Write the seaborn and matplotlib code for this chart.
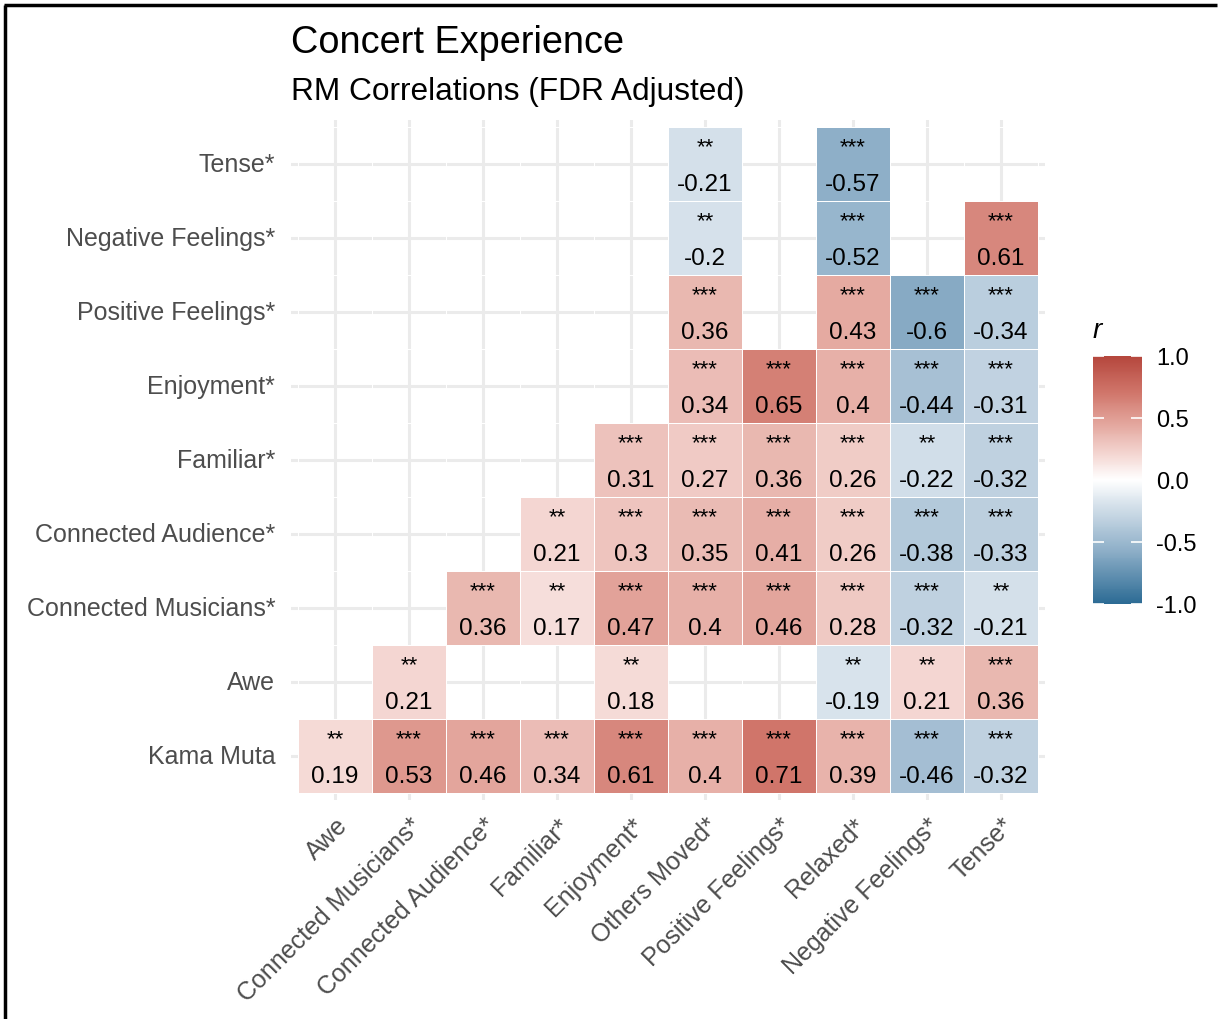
import numpy as np
import pandas as pd
import matplotlib
matplotlib.use("Agg")
import matplotlib.pyplot as plt
import seaborn as sns
from matplotlib.colors import LinearSegmentedColormap
from matplotlib.lines import Line2D

# Variables on each axis
col_vars = ["Awe", "Connected Musicians*", "Connected Audience*", "Familiar*",
            "Enjoyment*", "Others Moved*", "Positive Feelings*", "Relaxed*",
            "Negative Feelings*", "Tense*"]
row_vars = ["Tense*", "Negative Feelings*", "Positive Feelings*", "Enjoyment*",
            "Familiar*", "Connected Audience*", "Connected Musicians*", "Awe",
            "Kama Muta"]

N = np.nan
# Repeated-measures correlations (non-significant pairs left blank)
r_tense    = [N, N, N, N, N, -0.21, N, -0.57, N, N]
r_negative = [N, N, N, N, N, -0.2, N, -0.52, N, 0.61]
r_positive = [N, N, N, N, N, 0.36, N, 0.43, -0.6, -0.34]
r_enjoy    = [N, N, N, N, N, 0.34, 0.65, 0.4, -0.44, -0.31]
r_familiar = [N, N, N, N, 0.31, 0.27, 0.36, 0.26, -0.22, -0.32]
r_conn_aud = [N, N, N, 0.21, 0.3, 0.35, 0.41, 0.26, -0.38, -0.33]
r_conn_mus = [N, N, 0.36, 0.17, 0.47, 0.4, 0.46, 0.28, -0.32, -0.21]
r_awe      = [N, 0.21, N, N, 0.18, N, N, -0.19, 0.21, 0.36]
r_kama     = [0.19, 0.53, 0.46, 0.34, 0.61, 0.4, 0.71, 0.39, -0.46, -0.32]

# Significance stars (FDR adjusted)
s_tense    = ["", "", "", "", "", "**", "", "***", "", ""]
s_negative = ["", "", "", "", "", "**", "", "***", "", "***"]
s_positive = ["", "", "", "", "", "***", "", "***", "***", "***"]
s_enjoy    = ["", "", "", "", "", "***", "***", "***", "***", "***"]
s_familiar = ["", "", "", "", "***", "***", "***", "***", "**", "***"]
s_conn_aud = ["", "", "", "**", "***", "***", "***", "***", "***", "***"]
s_conn_mus = ["", "", "***", "**", "***", "***", "***", "***", "***", "**"]
s_awe      = ["", "**", "", "", "**", "", "", "**", "**", "***"]
s_kama     = ["**", "***", "***", "***", "***", "***", "***", "***", "***", "***"]

r_rows = [r_tense, r_negative, r_positive, r_enjoy, r_familiar,
          r_conn_aud, r_conn_mus, r_awe, r_kama]
s_rows = [s_tense, s_negative, s_positive, s_enjoy, s_familiar,
          s_conn_aud, s_conn_mus, s_awe, s_kama]

corr = pd.DataFrame(r_rows, index=row_vars, columns=col_vars)

plt.rcParams["font.family"] = ["Liberation Sans", "DejaVu Sans"]
plt.rcParams["axes.unicode_minus"] = False

# Diverging palette: blue - white - red
stops = [(-1.0, "#2C6B94"), (-0.57, "#8EAFC8"), (-0.21, "#D4E0EA"),
         (0.0, "#FFFFFF"), (0.19, "#F5DAD6"), (0.46, "#E3A59C"),
         (0.71, "#D0756A"), (1.0, "#B5473D")]
cmap = LinearSegmentedColormap.from_list(
    "rm_div", [((v + 1) / 2, c) for v, c in stops])

W, H = 1219, 1020
fig = plt.figure(figsize=(W / 100, H / 100), dpi=100)
ax = fig.add_axes([290.6 / W, 1 - 801.4 / H, 754.8 / W, 680.8 / H])
cax = fig.add_axes([1093 / W, 1 - 605 / H, 49 / W, 248 / H])

sns.heatmap(corr, cmap=cmap, vmin=-1, vmax=1, linewidths=0.5,
            linecolor="white", ax=ax, cbar_ax=cax)

nrow, ncol = corr.shape
ax.set_xlim(-0.1, ncol + 0.1)
ax.set_ylim(nrow + 0.1, -0.1)
ax.set_axisbelow(True)
ax.grid(True, color="#EBEBEB", linewidth=2.2)
for sp in ax.spines.values():
    sp.set_visible(False)
ax.tick_params(length=0)
ax.set_xlabel("")
ax.set_ylabel("")
ax.set_xticklabels(col_vars, rotation=45, ha="right", va="top",
                   rotation_mode="anchor", fontsize=18, color="#4D4D4D")
ax.set_yticklabels(row_vars, rotation=0, fontsize=18, color="#4D4D4D",
                   va="center")
ax.tick_params(axis="y", pad=11)
ax.tick_params(axis="x", pad=9)

# Cell annotations: stars above, rounded coefficient below
for i in range(nrow):
    for j in range(ncol):
        v = corr.iat[i, j]
        if np.isnan(v):
            continue
        ax.text(j + 0.5, i + 0.5 - 0.24, s_rows[i][j], ha="center",
                va="center", fontsize=16, color="black")
        ax.text(j + 0.5, i + 0.5 + 0.27, format(v, "g"), ha="center",
                va="center", fontsize=17.5, color="black")

# Colourbar styling
cbar = ax.collections[0].colorbar
cbar.outline.set_visible(False)
cbar.set_ticks([-1, -0.5, 0, 0.5, 1])
cbar.set_ticklabels(["-1.0", "-0.5", "0.0", "0.5", "1.0"])
cax.tick_params(direction="in", length=8, width=1.2, color="white",
                labelcolor="black", labelsize=17, left=True, right=True,
                pad=10)
cax.set_title("r", loc="left", fontstyle="italic", fontsize=20, pad=14)

# Titles
fig.text(291 / W, 1 - 53 / H, "Concert Experience", fontsize=27.3,
         va="baseline", ha="left", color="black")
fig.text(291 / W, 1 - 100 / H, "RM Correlations (FDR Adjusted)",
         fontsize=22.8, va="baseline", ha="left", color="black")

# Frame lines along top and left edges
fig.add_artist(Line2D([4 / W, 1217 / W], [1 - 5.5 / H, 1 - 5.5 / H],
                      transform=fig.transFigure, color="black", lw=2.5,
                      solid_capstyle="butt"))
fig.add_artist(Line2D([5 / W, 5 / W], [0, 1 - 5.5 / H],
                      transform=fig.transFigure, color="black", lw=2.5,
                      solid_capstyle="butt"))

fig.savefig("out.png", dpi=100, facecolor="white")
